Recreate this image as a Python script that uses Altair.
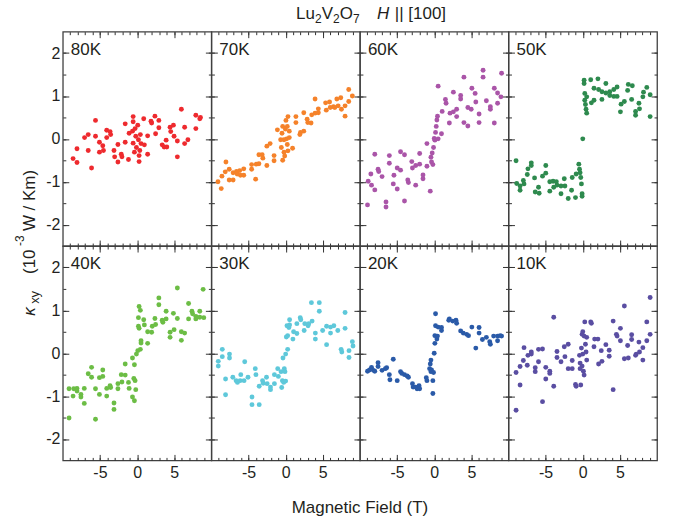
import altair as alt
import pandas as pd

temperatures = ["80K", "70K", "60K", "50K", "40K", "30K", "20K", "10K"]
colors = ["#ee2a2e", "#f5822a", "#aa55a8", "#2e8a4e", "#6cbd45", "#5ec8da", "#2a5aa8", "#5a4ea2"]

d80 = [(-8.62,-0.46),(-8.09,-0.55),(-8.09,-0.23),(-7.07,0.03),(-6.58,-0.27),(-6.58,0.10),(-6.13,-0.68),(-5.6,0.43),(-5.6,0.06),(-5.07,-0.08),(-5.07,-0.31),(-4.62,-0.16),(-4.53,-0.27),(-4.09,0.03),(-4.09,0.20),(-3.64,0.17),(-3.56,0.10),(-3.11,-0.27),(-3.02,-0.42),(-2.58,-0.54),(-2.58,-0.13),(-2.13,-0.36),(-2.04,-0.42),(-1.6,-0.08),(-1.6,0.35),(-1.16,-0.48),(-1.07,0.13),(-0.62,0.18),(-0.53,0.52),(-0.53,0.40),(-0.53,-0.10),(-0.36,-0.31),(-0.27,0.24),(-0.18,0.06),(-0.09,-0.20),(0.09,0.32),(0.18,-0.02),(0.27,-0.39),(0.27,-0.53),(0.36,-0.27),(0.44,0.10),(0.53,-0.11),(0.89,0.47),(0.98,-0.14),(1.42,-0.36),(1.42,0.07),(1.87,0.41),(1.96,0.37),(2.4,0.53),(2.49,0.12),(2.93,0.43),(2.93,0.26),(3.38,-0.14),(3.64,-0.19),(3.91,-0.03),(4.0,-0.19),(4.44,0.27),(4.53,0.17),(4.89,0.32),(4.98,0.06),(5.42,-0.05),(5.42,-0.42),(5.96,0.69),(6.4,0.27),(6.4,-0.11),(6.84,-0.02),(7.91,0.55),(7.91,0.24),(8.44,0.47),(8.53,0.50)]

d70 = [(-9.11,-1.00),(-8.67,-1.16),(-8.58,-0.87),(-8.13,-0.77),(-8.04,-0.54),(-7.6,-0.71),(-7.6,-0.96),(-7.07,-0.96),(-7.07,-0.79),(-6.62,-0.76),(-6.53,-0.82),(-6.18,-0.74),(-6.09,-0.85),(-5.64,-0.70),(-5.64,-0.85),(-4.58,-0.60),(-4.58,-0.71),(-4.04,-0.94),(-3.96,-0.59),(-3.6,-0.58),(-3.6,-0.37),(-3.16,-0.37),(-3.07,-0.45),(-2.53,-0.62),(-2.53,-0.17),(-2.09,-0.11),(-1.56,-0.39),(-1.56,-0.51),(-1.11,0.21),(-0.67,-0.02),(-0.58,-0.20),(-0.49,0.13),(-0.4,-0.50),(-0.4,0.29),(-0.22,-0.31),(-0.22,-0.02),(-0.13,-0.40),(-0.04,0.23),(0.04,0.43),(0.13,0.00),(0.22,0.29),(0.22,-0.13),(0.31,-0.28),(0.31,0.52),(0.49,0.18),(0.49,0.03),(0.93,-0.22),(1.38,0.52),(1.38,0.38),(1.91,0.10),(2.0,0.15),(2.44,0.61),(2.44,0.18),(2.89,0.46),(2.98,0.38),(3.42,0.37),(3.51,0.56),(3.96,0.93),(3.96,0.60),(4.4,0.70),(4.4,0.61),(5.38,0.84),(5.47,0.67),(5.91,0.86),(6.0,0.73),(6.44,0.75),(6.62,0.73),(6.89,0.93),(7.07,0.77),(7.42,0.96),(7.51,0.69),(8.0,0.53),(8.0,0.77),(8.49,0.87),(8.49,1.15),(8.98,1.00)]

d60 = [(-8.98,-1.54),(-8.89,-0.99),(-8.53,-0.82),(-8.44,-1.08),(-8.0,-1.19),(-8.0,-0.36),(-7.56,-0.71),(-7.47,-0.76),(-7.02,-0.88),(-6.49,-1.47),(-6.49,-1.59),(-6.04,-0.39),(-6.04,-0.57),(-5.51,-1.05),(-5.42,-0.85),(-4.98,-0.68),(-4.98,-1.17),(-4.53,-0.73),(-4.53,-0.30),(-4.0,-0.37),(-4.0,-1.45),(-3.56,-0.96),(-3.47,-1.02),(-3.02,-0.53),(-2.93,-0.68),(-2.49,-1.08),(-2.49,-0.62),(-1.96,-0.34),(-1.96,-0.59),(-1.51,-0.84),(-1.51,-0.93),(-0.98,-0.11),(-0.98,-0.64),(-0.53,-1.22),(-0.44,-0.43),(-0.36,-0.54),(-0.27,-0.33),(-0.18,-0.60),(-0.09,-0.20),(0.0,0.01),(0.09,-0.03),(0.18,0.15),(0.27,0.29),(0.36,0.44),(0.44,0.53),(0.53,0.00),(0.53,1.23),(0.98,0.12),(1.07,0.64),(1.51,0.92),(1.6,0.83),(2.04,0.37),(2.13,0.60),(2.58,0.63),(2.58,1.09),(3.02,0.69),(3.02,0.52),(3.56,1.01),(3.56,0.93),(4.0,1.44),(4.0,0.38),(4.53,0.30),(4.53,0.73),(4.98,0.69),(5.07,1.18),(5.51,1.06),(5.6,0.86),(6.04,0.58),(6.04,0.38),(6.58,1.60),(6.58,1.44),(7.02,0.89),(7.56,0.75),(7.56,0.69),(8.09,0.37),(8.09,1.18),(8.53,0.83),(8.53,1.07),(8.98,0.98),(9.07,1.53)]

d50 = [(-8.98,-0.51),(-8.89,-1.04),(-8.44,-1.20),(-8.44,-1.10),(-8.0,-0.97),(-7.91,-1.05),(-7.47,-0.83),(-7.38,-0.70),(-6.93,-0.56),(-6.93,-0.62),(-6.49,-0.91),(-6.4,-1.24),(-5.96,-1.13),(-5.87,-1.27),(-5.42,-0.87),(-4.98,-0.62),(-4.98,-0.80),(-4.44,-1.00),(-4.44,-1.22),(-4.0,-0.99),(-3.91,-1.13),(-3.56,-1.00),(-3.47,-1.08),(-2.93,-1.28),(-2.93,-1.10),(-2.49,-0.93),(-2.4,-1.10),(-1.96,-1.39),(-1.51,-1.20),(-1.42,-0.90),(-0.98,-1.37),(-0.89,-0.82),(-0.53,-0.59),(-0.44,-0.71),(-0.36,-0.79),(-0.27,-0.90),(-0.18,-1.05),(-0.09,-1.28),(-0.09,-1.34),(0.0,0.0),(0.18,1.37),(0.18,1.29),(0.27,1.06),(0.27,0.90),(0.36,0.80),(0.44,0.69),(0.53,0.60),(0.53,0.98),(1.07,1.38),(1.16,0.84),(1.51,0.90),(1.51,1.18),(2.04,1.40),(2.13,1.15),(2.58,0.92),(2.58,1.10),(3.11,1.29),(3.11,1.07),(3.64,1.01),(3.64,1.10),(4.18,1.15),(4.18,0.99),(4.62,1.21),(4.62,0.99),(5.07,0.63),(5.16,0.81),(5.6,0.87),(6.04,1.13),(6.13,1.27),(6.58,0.92),(6.67,1.24),(7.11,0.55),(7.11,0.64),(7.56,0.83),(7.64,0.70),(8.09,0.98),(8.18,1.09),(8.62,1.20),(9.07,1.03),(9.07,0.52)]

d40 = [(-9.16,-1.51),(-9.16,-0.83),(-8.62,-1.00),(-8.53,-0.83),(-8.09,-0.82),(-8.09,-0.88),(-7.56,-0.96),(-7.56,-1.02),(-7.11,-0.82),(-7.11,-1.17),(-6.58,-0.48),(-6.13,-0.33),(-6.13,-0.56),(-5.6,-0.83),(-5.6,-1.54),(-5.07,-0.96),(-5.07,-0.57),(-4.62,-0.39),(-4.62,-0.54),(-4.09,-0.82),(-4.09,-1.00),(-3.64,-0.76),(-3.56,-0.80),(-3.11,-1.16),(-3.11,-1.31),(-2.58,-0.71),(-2.58,-0.83),(-2.13,-0.50),(-2.04,-0.67),(-1.6,-0.25),(-1.6,-0.51),(-1.16,-0.68),(-1.07,-0.82),(-0.62,-0.11),(-0.62,-1.02),(-0.44,-0.59),(-0.36,-1.11),(-0.36,-0.27),(-0.27,-0.64),(-0.18,-0.85),(-0.09,-0.02),(0.09,0.06),(0.18,0.83),(0.18,0.63),(0.27,0.58),(0.27,1.09),(0.44,0.09),(0.44,1.00),(0.53,0.29),(0.53,0.24),(0.89,0.78),(0.98,0.66),(1.42,0.23),(1.42,0.50),(1.96,0.49),(2.04,0.63),(2.4,0.81),(2.49,0.67),(2.93,1.29),(2.93,1.13),(3.38,0.77),(3.47,0.72),(3.91,0.98),(3.91,0.80),(4.44,0.37),(4.44,0.49),(4.89,0.93),(4.98,0.55),(5.42,1.52),(5.42,0.81),(5.96,0.50),(5.96,0.30),(6.4,0.47),(6.93,1.16),(6.93,0.80),(7.38,0.98),(7.47,0.92),(7.91,0.80),(7.91,0.86),(8.44,0.98),(8.44,0.84),(8.89,1.49),(8.98,0.83)]

d30 = [(-9.07,-0.19),(-9.07,-0.30),(-8.53,0.09),(-8.53,-0.08),(-8.09,-0.60),(-8.09,-0.97),(-7.56,-0.02),(-7.56,-0.11),(-7.11,-0.56),(-6.67,-0.64),(-6.49,-0.68),(-6.13,-0.64),(-6.04,-0.50),(-5.6,-0.64),(-5.51,-0.20),(-5.07,-0.56),(-4.53,-1.02),(-4.53,-1.20),(-4.09,-0.36),(-4.0,-0.50),(-3.56,-0.77),(-3.56,-1.20),(-3.11,-0.64),(-3.02,-0.70),(-2.58,-0.56),(-2.49,-0.71),(-2.04,-0.79),(-2.04,-0.85),(-1.51,-0.71),(-1.51,-0.50),(-1.07,-0.36),(-0.98,-0.54),(-0.62,-0.43),(-0.53,-0.80),(-0.44,-0.64),(-0.36,-0.11),(-0.27,-0.68),(-0.18,-0.36),(-0.09,-0.43),(0.0,-0.02),(0.0,-0.65),(0.27,0.09),(0.09,0.38),(0.18,0.64),(0.27,0.41),(0.44,0.60),(0.53,0.78),(0.53,0.66),(0.98,0.33),(1.07,0.50),(1.51,0.69),(1.51,0.46),(1.96,0.83),(2.04,0.78),(2.49,0.53),(2.58,0.69),(3.02,0.64),(3.11,0.69),(3.47,1.18),(3.56,0.75),(4.0,0.47),(4.0,0.33),(4.53,1.18),(4.53,0.98),(4.98,0.53),(5.51,0.63),(5.51,0.20),(6.04,0.61),(6.04,0.47),(6.49,0.64),(7.02,0.53),(7.47,0.09),(7.56,0.03),(8.0,0.58),(8.0,0.95),(8.53,0.06),(8.53,-0.10),(8.98,0.27),(9.07,0.17)]

d20 = [(-8.98,-0.42),(-8.71,-0.39),(-8.44,-0.33),(-8.18,-0.40),(-8.0,-0.42),(-7.56,-0.22),(-7.56,-0.31),(-7.02,-0.40),(-6.58,-0.36),(-6.4,-0.34),(-6.04,-0.50),(-5.96,-0.62),(-5.51,-0.14),(-4.98,-0.64),(-4.53,-0.43),(-4.36,-0.47),(-4.0,-0.50),(-3.64,-0.53),(-3.47,-0.56),(-2.93,-0.71),(-2.84,-0.79),(-2.49,-0.79),(-2.31,-0.83),(-2.04,-0.76),(-1.96,-0.83),(-1.07,-0.57),(-0.98,-0.64),(-0.62,-0.36),(-0.53,-0.25),(-0.44,-0.16),(-0.44,-0.43),(-0.36,-0.39),(-0.18,-0.94),(-0.18,-0.64),(-0.09,-0.45),(0.0,0.0),(0.09,0.23),(0.09,0.41),(0.18,0.92),(0.18,0.64),(0.36,0.33),(0.44,0.40),(0.53,0.61),(0.98,0.60),(0.98,0.53),(1.96,0.77),(2.04,0.80),(2.49,0.75),(2.93,0.77),(3.02,0.70),(3.56,0.52),(3.91,0.47),(4.36,0.44),(4.62,0.41),(5.07,0.61),(5.6,0.12),(6.04,0.60),(6.04,0.47),(6.49,0.32),(7.02,0.37),(7.47,0.27),(7.56,0.21),(8.0,0.40),(8.53,0.40),(8.53,0.29),(8.89,0.41),(9.07,0.40)]

d10 = [(-8.98,-0.45),(-8.98,-1.33),(-8.44,-0.74),(-8.44,-0.31),(-8.0,-0.17),(-7.91,0.13),(-7.47,-0.28),(-7.38,-0.05),(-6.93,0.03),(-6.93,-0.02),(-6.4,-0.34),(-6.4,-0.43),(-5.96,-0.20),(-5.96,0.09),(-5.42,-1.13),(-5.42,0.10),(-4.98,-0.33),(-4.98,-0.60),(-4.44,-0.42),(-4.44,-0.47),(-3.91,0.84),(-3.91,-0.77),(-3.47,0.04),(-3.47,-0.10),(-2.93,-0.20),(-2.49,0.15),(-2.4,-0.08),(-1.96,0.21),(-1.96,-0.36),(-1.42,-0.17),(-1.42,-0.36),(-0.98,-0.73),(-0.89,-0.77),(-0.44,-0.05),(-0.36,-0.23),(-0.36,-0.36),(-0.27,-0.74),(-0.18,0.12),(-0.09,-0.30),(-0.09,0.44),(0.0,0.50),(0.0,-0.02),(0.09,-0.42),(0.18,0.40),(0.18,-0.51),(0.27,0.73),(0.36,0.21),(0.44,0.03),(0.53,0.37),(0.53,-0.16),(1.07,0.73),(1.16,0.70),(1.51,0.15),(1.6,0.33),(2.04,0.33),(2.13,-0.25),(2.49,0.06),(2.58,-0.19),(3.11,0.20),(3.56,0.07),(3.56,-0.07),(4.09,0.75),(4.09,-0.85),(4.53,0.44),(4.62,0.40),(5.07,0.58),(5.07,0.29),(5.6,1.10),(5.6,-0.13),(6.04,0.18),(6.13,-0.11),(6.58,0.43),(6.58,0.32),(7.11,-0.05),(7.2,-0.02),(7.56,0.26),(7.64,0.03),(8.09,-0.16),(8.09,0.13),(8.62,0.73),(8.62,0.29),(9.07,0.44),(9.07,1.30)]

series = [d80, d70, d60, d50, d40, d30, d20, d10]

x_domain = [-10, 10]
y_domain = [-2.5, 2.5]
x_major = [-5, 0, 5]
x_minor = [-9, -8, -7, -6, -5, -4, -3, -2, -1, 0, 1, 2, 3, 4, 5, 6, 7, 8, 9]
y_major = [-2, -1, 0, 1, 2]
y_minor = [-2, -1.5, -1, -0.5, 0, 0.5, 1, 1.5, 2]

W, H = 149, 215
FONT = "Liberation Sans"
INK = "#231f20"
TICK = "#333333"


def make_axis(orient, values, size, labels):
    kw = dict(orient=orient, values=values, tickSize=size, offset=-size,
              domain=False, grid=False, title=None, labels=labels,
              tickColor=TICK, tickWidth=1)
    if labels:
        kw.update(labelFontSize=16, labelFont=FONT, labelColor=INK,
                  labelPadding=4 if orient == "bottom" else 3,
                  labelExpr="'' + datum.value")
    return alt.Axis(**kw)


def text_layer(txt, x, y, size=17, style="normal", align="left",
               baseline="alphabetic", angle=0, color=INK):
    return alt.Chart(pd.DataFrame({"t": [txt]})).mark_text(
        align=align, baseline=baseline, fontSize=size, font=FONT,
        fontStyle=style, color=color, angle=angle
    ).encode(text="t:N", x=alt.value(x), y=alt.value(y))


def panel(i):
    row, col = divmod(i, 4)
    df = pd.DataFrame(series[i], columns=["H", "K"])
    base = alt.Chart(df)
    xs = alt.Scale(domain=x_domain, nice=False, zero=False)
    ys = alt.Scale(domain=y_domain, nice=False, zero=False)
    show_x = row == 1
    show_y = col == 0

    def ghost(xo, xv, xsz, yo, yv, ysz):
        return base.mark_point(opacity=0).encode(
            x=alt.X("H:Q", scale=xs, axis=make_axis(xo, xv, xsz, False)),
            y=alt.Y("K:Q", scale=ys, axis=make_axis(yo, yv, ysz, False)))

    l_minor_bl = ghost("bottom", x_minor, 3, "left", y_minor, 3)
    l_major_tr = ghost("top", x_major, 6, "right", y_major, 6)
    l_minor_tr = ghost("top", x_minor, 3, "right", y_minor, 3)
    pts = base.mark_circle(size=24, opacity=1, color=colors[i]).encode(
        x=alt.X("H:Q", scale=xs, axis=make_axis("bottom", x_major, 6, show_x)),
        y=alt.Y("K:Q", scale=ys, axis=make_axis("left", y_major, 6, show_y)))
    lab = text_layer(temperatures[i], 8, 18, size=17, baseline="middle")
    layers = [l_minor_bl, l_major_tr, l_minor_tr, pts, lab]

    if i == 0:
        # figure title: Lu2V2O7   H || [100]
        layers += [
            text_layer("Lu", 234, -13),
            text_layer("2", 253, -9, size=12),
            text_layer("V", 259.7, -13),
            text_layer("2", 271, -9, size=12),
            text_layer("O", 277.7, -13),
            text_layer("7", 291, -9, size=12),
            text_layer("H", 315, -13, style="italic"),
            text_layer("|| [100]", 333, -13),
            # y-axis title: kappa_xy (10^-3 W / Km)
            text_layer("κ", -28, 285, style="italic", angle=270),
            text_layer("xy", -24, 273, size=13, angle=270),
            text_layer("(10", -28, 243, angle=270),
            text_layer("-3", -39, 215, size=12, angle=270),
            text_layer("W / Km)", -28, 200, angle=270),
            # x-axis title
            text_layer("Magnetic Field (T)", 298, 478, align="center",
                       baseline="middle"),
        ]

    return alt.layer(*layers).resolve_axis(
        x="independent", y="independent").properties(width=W, height=H)


panels = [panel(i) for i in range(8)]

chart = alt.concat(*panels, columns=4, spacing=0, bounds="flush").configure_view(
    stroke="#404040", strokeWidth=1.3
).properties(
    padding={"left": 13, "top": 3, "right": 14, "bottom": 4},
    background="white"
)

chart.save("out.html", embed_options={"renderer": "svg", "actions": False})
